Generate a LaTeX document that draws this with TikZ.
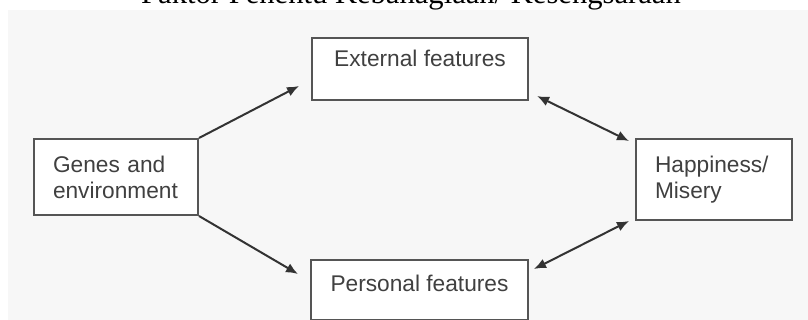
\documentclass[tikz,border=0pt]{standalone}
\usepackage{fontspec}
\setmainfont{Liberation Serif}
\newfontfamily\boxfont{Liberation Sans}
\usetikzlibrary{arrows.meta}
\definecolor{bggray}{HTML}{F7F7F7}
\definecolor{boxline}{HTML}{555555}
\definecolor{arrline}{HTML}{333333}
\begin{document}
\begin{tikzpicture}[x=0.5pt,y=-0.5pt,
    box/.style={draw=boxline,line width=1pt,fill=white,anchor=north west,
                align=left,inner xsep=9.5pt,inner ysep=0pt,text=black!75,
                font=\boxfont\fontsize{11.35}{13}\selectfont},
    arr/.style={draw=arrline,line width=1pt,-{Latex[length=6pt,width=5pt]}},
    biarr/.style={draw=arrline,line width=1pt,{Latex[length=6pt,width=5pt]}-{Latex[length=6pt,width=5pt]}}]
    \useasboundingbox (0,0) rectangle (808,320);
    \clip (0,0) rectangle (808,320);
    \fill[bggray] (8,10) rectangle (808,320);
    \node (T) at (411,4) [anchor=base,font=\fontsize{15.3}{18}\selectfont] {Faktor Penentu Kebahagiaan/ Kesengsaraan};

    \node (G) at (33,138)  [box,text width=63pt,minimum height=38pt] {Genes and\\environment};
    \node (E) at (311,37)  [box,inner xsep=0pt,minimum width=108pt,text height=14.5pt,text depth=16.5pt] {External features};
    \node (P) at (310,259) [box,inner xsep=0pt,minimum width=108.5pt,text height=16pt,text depth=14pt] {Personal features};
    \node (H) at (635,138) [box,text width=59pt,minimum height=40.5pt] {Happiness/\\Misery};

    % free arrow ends
    \coordinate (e1) at (299,86);
    \coordinate (p1) at (298,274);
    \coordinate (e2) at (537,96);
    \coordinate (h1) at (629,141);
    \coordinate (p2) at (534,269);
    \coordinate (h2) at (629,221);

    \draw [arr]   (G.north east) -- (e1);
    \draw [arr]   (G.south east) -- (p1);
    \draw [biarr] (e2) -- (h1);
    \draw [biarr] (p2) -- (h2);
\end{tikzpicture}
\end{document}
